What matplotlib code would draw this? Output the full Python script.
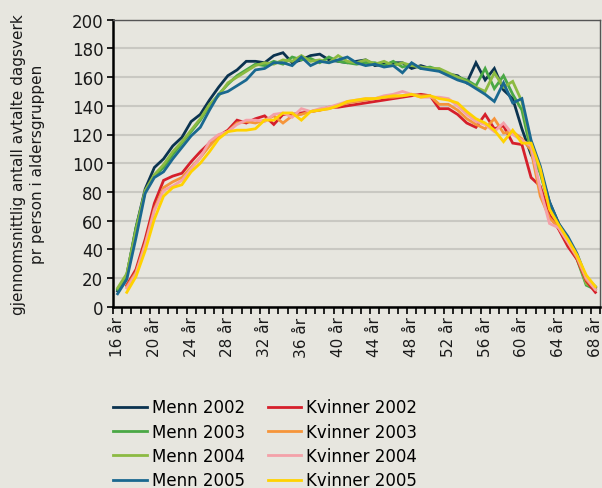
import numpy as np
import matplotlib.pyplot as plt
from matplotlib.ticker import FixedLocator

# Ages 16..68 (men), women start at 17
ages = list(range(16, 69))

menn_2002 = [11, 22, 55, 82, 97, 103, 112, 118, 129, 134, 144, 153, 161, 165, 171, 171, 170, 175,
             177, 170, 172, 175, 176, 172, 171, 170, 171, 172, 168, 169, 170, 170, 166, 168, 166, 165,
             162, 161, 156, 170, 158, 166, 151, 145, 124, 106, 95, 73, 58, 47, 35, 17, 13]
menn_2003 = [12, 22, 55, 80, 91, 97, 106, 114, 122, 130, 140, 148, 155, 161, 165, 169, 168, 171,
             169, 174, 172, 173, 170, 174, 171, 170, 169, 170, 170, 168, 171, 167, 169, 166, 167, 165,
             162, 160, 158, 154, 166, 152, 161, 148, 137, 108, 93, 70, 56, 45, 33, 15, 12]
menn_2004 = [13, 23, 53, 81, 92, 99, 108, 115, 123, 131, 141, 147, 156, 160, 164, 168, 170, 169,
             172, 171, 175, 171, 172, 170, 175, 171, 170, 172, 169, 171, 168, 170, 168, 167, 166, 166,
             163, 160, 157, 153, 150, 163, 153, 157, 143, 112, 94, 71, 56, 46, 34, 16, 13]
menn_2005 = [9, 19, 48, 79, 90, 94, 103, 111, 119, 125, 137, 148, 150, 154, 158, 165, 166, 170,
             170, 168, 174, 168, 171, 170, 172, 174, 170, 168, 169, 167, 168, 163, 170, 166, 165, 164,
             161, 158, 156, 152, 148, 143, 156, 142, 145, 116, 98, 73, 58, 49, 37, 20, 14]

kvinner_2002 = [15, 26, 47, 72, 88, 91, 93, 101, 108, 114, 119, 123, 130, 128, 131, 133, 127, 134,
                134, 135, 136, 137, 139, 139, 140, 141, 142, 143, 144, 145, 146, 147, 148, 147, 138,
                138, 134, 128, 125, 134, 124, 126, 114, 113, 90, 84, 64, 54, 42, 33, 18, 10]
kvinner_2003 = [14, 24, 44, 68, 83, 87, 90, 97, 104, 112, 119, 122, 128, 129, 128, 130, 133, 128,
                133, 134, 136, 137, 138, 140, 142, 143, 144, 145, 146, 146, 147, 148, 147, 147, 141,
                141, 137, 131, 127, 124, 131, 121, 122, 117, 109, 77, 62, 55, 45, 34, 19, 12]
kvinner_2004 = [13, 23, 43, 67, 81, 84, 88, 96, 104, 115, 120, 122, 127, 130, 130, 129, 134, 135,
                132, 138, 136, 138, 139, 141, 143, 144, 145, 145, 147, 148, 150, 148, 146, 146, 146,
                145, 140, 134, 129, 127, 122, 128, 120, 116, 112, 82, 58, 55, 45, 35, 20, 12]
kvinner_2005 = [10, 21, 39, 61, 77, 83, 85, 94, 100, 108, 117, 122, 123, 123, 124, 130, 130, 135,
                135, 130, 136, 137, 138, 140, 143, 144, 145, 145, 146, 147, 147, 148, 146, 147, 145,
                144, 142, 136, 131, 128, 123, 115, 123, 114, 114, 96, 68, 57, 47, 36, 22, 14]

series = [
    ("Menn 2002", menn_2002, "#0b3350"),
    ("Menn 2003", menn_2003, "#4aa845"),
    ("Menn 2004", menn_2004, "#8cba42"),
    ("Menn 2005", menn_2005, "#1a6890"),
    ("Kvinner 2002", kvinner_2002, "#d61f2b"),
    ("Kvinner 2003", kvinner_2003, "#f6953a"),
    ("Kvinner 2004", kvinner_2004, "#f4a1a9"),
    ("Kvinner 2005", kvinner_2005, "#ffd200"),
]

bg = "#e7e6df"
plt.rcParams['font.family'] = ['DejaVu Sans']

fig = plt.figure(figsize=(6.02, 4.89), dpi=100, facecolor=bg)
ax = fig.add_axes([113 / 602, 1 - 307.7 / 489, (600 - 113) / 602, (307.7 - 20.7) / 489])
ax.set_facecolor(bg)

idx = np.arange(len(ages))
handles = []
for name, vals, col in series:
    x = idx[len(ages) - len(vals):]
    h, = ax.plot(x, vals, color=col, lw=2, label=name, solid_joinstyle='miter')
    handles.append(h)

ax.set_xlim(-0.5, len(ages) - 0.5)
ax.set_ylim(0, 200)
ax.set_yticks(range(0, 201, 20))
ax.yaxis.grid(True, color="#c9c8c2", lw=1.5)
ax.set_axisbelow(True)

# x: tick marks between categories, labels every 4 years
ax.xaxis.set_major_locator(FixedLocator(np.arange(-0.5, len(ages), 1.0)))
ax.set_xticklabels([])
lab_idx = [i for i, a in enumerate(ages) if (a - 16) % 4 == 0]
ax.xaxis.set_minor_locator(FixedLocator(lab_idx))
ax.set_xticklabels([f"{ages[i]} år" for i in lab_idx], minor=True, rotation=90,
                   fontsize=11, color="#1a1a1a")
ax.tick_params(axis='x', which='major', length=5, width=1.2, color='black', direction='out')
ax.tick_params(axis='x', which='minor', length=0, pad=7)
ax.tick_params(axis='y', length=4, width=1.2, labelsize=12, pad=3, labelcolor="#1a1a1a")

for s in ['left', 'bottom']:
    ax.spines[s].set_linewidth(1.8)
    ax.spines[s].set_color('black')
for s in ['top', 'right']:
    ax.spines[s].set_linewidth(1.0)
    ax.spines[s].set_color('#555555')

ax.set_ylabel("gjennomsnittlig antall avtalte dagsverk\npr person i aldersgruppen",
              fontsize=11, color="#1a1a1a", labelpad=19, linespacing=1.35)

fig.legend(handles=handles, loc='upper left', bbox_to_anchor=(105 / 602, 1 - 391 / 489),
           ncol=2, frameon=False, fontsize=12, handlelength=2.0, handletextpad=0.3,
           columnspacing=1.4, labelspacing=0.38, borderpad=0)

fig.savefig("out.png", dpi=100, facecolor=bg)
